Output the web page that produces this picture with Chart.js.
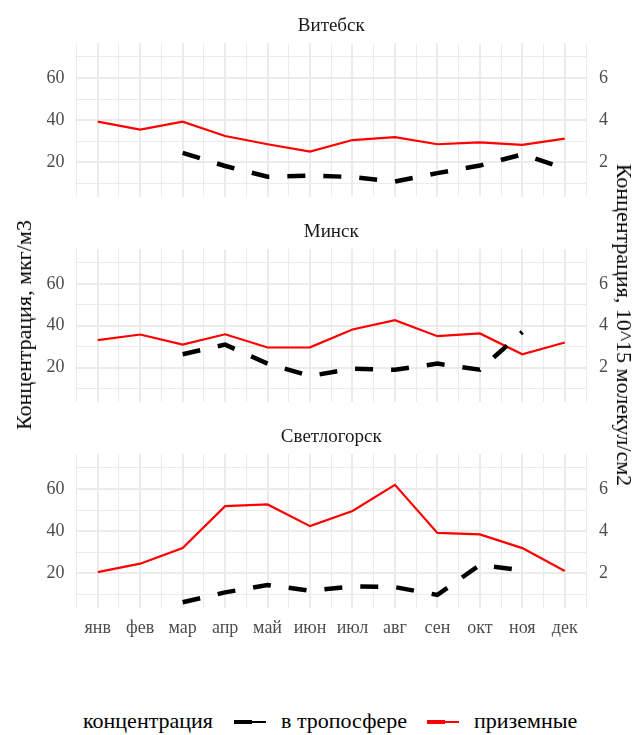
<!DOCTYPE html>
<html lang="ru">
<head>
<meta charset="UTF-8">
<title>Концентрация</title>
<script src="https://cdn.jsdelivr.net/npm/chart.js@4.4.0/dist/chart.umd.min.js"></script>
<style>
  body { margin: 0; background: #fff; }
  #wrap { position: relative; width: 635px; height: 735px; background: #fff; font-family: 'Liberation Serif', 'Times New Roman', serif; }
  canvas { position: absolute; left: 0; }
  .ytitle { position: absolute; font-size: 22px; color: #000; white-space: nowrap; line-height: 22px; }
  .leg { position: absolute; top: 708px; font-size: 22px; color: #000; white-space: nowrap; line-height: 26px; }
  .key { position: absolute; top: 720px; height: 4px; }
</style>
</head>
<body>
<div id="wrap">
  <canvas id="c1" width="635" height="229" style="top:0"></canvas>
  <canvas id="c2" width="635" height="229" style="top:205px"></canvas>
  <canvas id="c3" width="635" height="230" style="top:410px"></canvas>

  <div class="ytitle" id="yl" style="left:24px;top:325px;transform:translate(-50%,-50%) rotate(-90deg)">Концентрация, мкг/м3</div>
  <div class="ytitle" id="yr" style="left:624px;top:325px;transform:translate(-50%,-50%) rotate(90deg)">Концентрация, 10^15 молекул/см2</div>

  <div class="leg" style="left:83px">концентрация</div>
  <div class="key" style="left:234px;width:18px;background:#000"></div>
  <div class="key" style="left:252px;width:14px;top:721px;height:2px;background:#000"></div>
  <div class="leg" style="left:281px">в тропосфере</div>
  <div class="key" style="left:427px;width:18px;background:#ff0000"></div>
  <div class="key" style="left:445px;width:14px;top:721px;height:2px;background:#ff0000"></div>
  <div class="leg" style="left:474px">приземные</div>
</div>

<script>
const months = ['янв', 'фев', 'мар', 'апр', 'май', 'июн', 'июл', 'авг', 'сен', 'окт', 'ноя', 'дек'];
const cities = ['Витебск', 'Минск', 'Светлогорск'];

// приземные, мкг/м3 (левая ось)
const vitebskSurface = [39.3, 35.5, 39.3, 32.5, 28.6, 25.1, 30.6, 32.0, 28.6, 29.5, 28.3, 31.3];
const minskSurface = [33.1, 35.8, 31.0, 35.9, 29.6, 29.7, 38.2, 42.6, 35.0, 36.3, 26.4, 32.0];
const svetlogorskSurface = [20.6, 24.6, 32.0, 51.9, 52.7, 42.4, 49.6, 62.0, 39.2, 38.5, 32.0, 21.1];

// в тропосфере, 10^15 молекул/см2 (правая ось)
const vitebskTropo = [null, null, 2.45, 1.83, 1.32, 1.37, 1.31, 1.09, 1.49, 1.85, 2.38, 1.72];
const minskTropo = [null, null, 2.64, 3.10, 2.19, 1.60, 1.95, 1.90, 2.19, 1.90, 3.70, null];
const svetlogorskTropo = [null, null, 0.63, 1.10, 1.45, 1.18, 1.38, 1.35, 0.98, 2.40, 2.14, null];

const leftTicks = [20, 40, 60];
const rightTicks = [2, 4, 6];

const serif = "'Liberation Serif', 'Times New Roman', serif";
const tickFont = { family: serif, size: 18 };

const stripTitle = {
  id: 'stripTitle',
  afterDraw(chart, args, opts) {
    const { ctx, chartArea } = chart;
    ctx.save();
    ctx.font = '19px ' + serif;
    ctx.fillStyle = '#1a1a1a';
    ctx.textAlign = 'center';
    ctx.textBaseline = 'alphabetic';
    ctx.fillText(opts.text, (chartArea.left + chartArea.right) / 2, chartArea.top - 12);
    ctx.restore();
  }
};

function points(arr) {
  return arr.map((v, i) => ({ x: i, y: v }));
}

function panel(id, title, surface, tropo, showX, padTop) {
  new Chart(document.getElementById(id), {
    type: 'line',
    data: {
      datasets: [
        {
          label: 'в тропосфере',
          data: points(tropo),
          yAxisID: 'y2',
          borderColor: '#000000',
          borderWidth: 4.5,
          borderDash: [18, 18],
          borderCapStyle: 'butt',
          pointRadius: 0,
          tension: 0,
          spanGaps: false
        },
        {
          label: 'приземные',
          data: points(surface),
          yAxisID: 'y',
          borderColor: '#ff0000',
          borderWidth: 2.2,
          pointRadius: 0,
          tension: 0,
          spanGaps: false
        }
      ]
    },
    options: {
      responsive: false,
      animation: false,
      layout: { padding: { top: padTop, bottom: 0, left: 0, right: 0 } },
      plugins: {
        legend: { display: false },
        tooltip: { enabled: false },
        stripTitle: { text: title }
      },
      scales: {
        x: {
          type: 'linear',
          min: -0.5,
          max: 11.5,
          border: { display: false },
          grid: {
            drawTicks: false,
            color: '#ebebeb',
            lineWidth: c => Number.isInteger(c.tick.value) ? 2 : 1
          },
          ticks: {
            stepSize: 0.5,
            autoSkip: false,
            maxRotation: 0,
            padding: 9,
            color: '#4d4d4d',
            font: tickFont,
            callback: v => (showX && Number.isInteger(v)) ? months[v] : ''
          },
          afterFit: s => { s.height = 32; }
        },
        y: {
          position: 'left',
          min: 3.6,
          max: 76.6,
          border: { display: false },
          grid: {
            drawTicks: false,
            color: '#ebebeb',
            lineWidth: c => leftTicks.includes(c.tick.value) ? 2 : 1
          },
          ticks: {
            stepSize: 10,
            includeBounds: false,
            autoSkip: false,
            padding: 12,
            color: '#4d4d4d',
            font: tickFont,
            callback: v => leftTicks.includes(v) ? v : ''
          },
          afterFit: s => { s.width = 76.5; }
        },
        y2: {
          position: 'right',
          min: 0.36,
          max: 7.66,
          border: { display: false },
          grid: { display: false, drawTicks: false },
          ticks: {
            stepSize: 1,
            includeBounds: false,
            autoSkip: false,
            padding: 13,
            color: '#4d4d4d',
            font: tickFont,
            callback: v => rightTicks.includes(v) ? v : ''
          },
          afterFit: s => { s.width = 49; }
        }
      }
    },
    plugins: [stripTitle]
  });
}

panel('c1', cities[0], vitebskSurface, vitebskTropo, false, 43);
panel('c2', cities[1], minskSurface, minskTropo, false, 44);
panel('c3', cities[2], svetlogorskSurface, svetlogorskTropo, true, 44);
</script>
</body>
</html>
